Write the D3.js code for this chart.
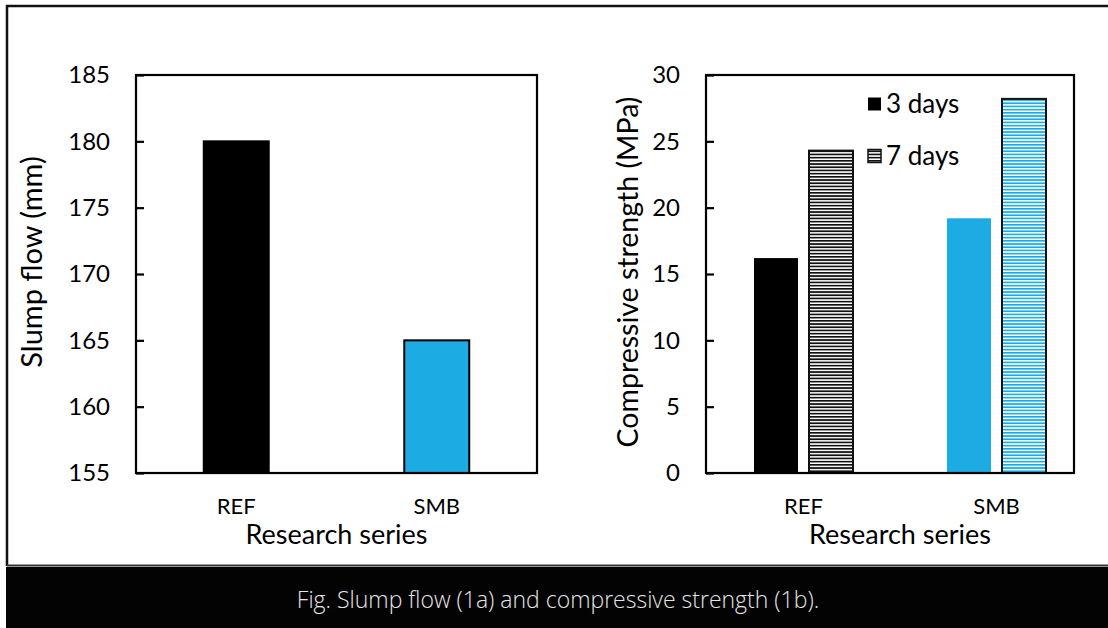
<!DOCTYPE html>
<html><head><meta charset="utf-8">
<script src="https://cdn.jsdelivr.net/npm/d3@7/dist/d3.min.js"></script>
<style>body{margin:0;background:#fff}svg{display:block}</style>
</head><body>
<script>
const categories = ["REF", "SMB"];
const slumpFlow = [180, 165];
const slumpTicks = [155, 160, 165, 170, 175, 180, 185];
const ages = ["3 days", "7 days"];
const strength3 = [16.2, 19.2];
const strength7 = [24.3, 28.2];
const strengthTicks = [0, 5, 10, 15, 20, 25, 30];
const caption = "Fig. Slump flow (1a) and compressive strength (1b).";

const W = 1108, H = 628;
const BLACK = "#000", BLUE = "#1CACE3";
const font = "Lato, 'Open Sans', sans-serif";

const svg = d3.select("body").append("svg").attr("width", W).attr("height", H);
const defs = svg.append("defs");
function hatch(id, color) {
  const p = defs.append("pattern").attr("id", id).attr("patternUnits", "userSpaceOnUse")
    .attr("width", 8).attr("height", 3.2);
  p.append("rect").attr("width", 8).attr("height", 3.2).attr("fill", "#fff");
  p.append("rect").attr("y", 0).attr("width", 8).attr("height", 1.7).attr("fill", color);
}
hatch("hBlack", "#111");
hatch("hBlue", BLUE);

// outer frame
svg.append("rect").attr("x", 0).attr("y", 0).attr("width", W).attr("height", H).attr("fill", "#fff");
svg.append("path").attr("d", `M7,566 V6 H${W}`).attr("fill", "none").attr("stroke", "#111").attr("stroke-width", 2.5);
svg.append("line").attr("x1", 7).attr("x2", W).attr("y1", 565.5).attr("y2", 565.5).attr("stroke", "#333").attr("stroke-width", 2);
svg.append("rect").attr("x", 6).attr("y", 567).attr("width", W - 6).attr("height", H - 567).attr("fill", "#030303");
svg.append("text").attr("x", 558).attr("y", 608).attr("text-anchor", "middle")
  .attr("font-family", "'Open Sans', 'Noto Sans', sans-serif").attr("font-weight", 300)
  .attr("font-size", 23).attr("fill", "#e6e6e6").text(caption);

function frame(g, x0, x1, y0, y1) {
  g.append("rect").attr("x", x0).attr("y", y0).attr("width", x1 - x0).attr("height", y1 - y0)
    .attr("fill", "none").attr("stroke", "#000").attr("stroke-width", 2.2);
}
function yAxis(g, y, ticks, x0) {
  const ax = d3.axisLeft(y).tickValues(ticks).tickSize(-8).tickPadding(26).tickFormat(d3.format("d"));
  const a = g.append("g").attr("transform", `translate(${x0},0)`).call(ax);
  a.select(".domain").remove();
  a.selectAll("line").attr("stroke", "#000").attr("stroke-width", 2.2);
  a.selectAll("text").attr("font-family", font).attr("font-size", 24).attr("fill", "#000");
}
function xLabels(g, x, yPos) {
  const ax = d3.axisBottom(x).tickSize(0).tickPadding(0);
  const a = g.append("g").attr("transform", `translate(0,${yPos})`).call(ax);
  a.select(".domain").remove();
  a.selectAll("text").attr("font-family", font).attr("font-size", 22).attr("fill", "#000").attr("dy", "0");
}

// ---- left chart
const L = {x0: 136, x1: 537, y0: 75, y1: 473};
const gL = svg.append("g");
const xL = d3.scaleBand().domain(categories).range([L.x0, L.x1]).paddingInner(0.676).paddingOuter(0.338);
const yL = d3.scaleLinear().domain([155, 185]).range([L.y1, L.y0]);
gL.selectAll("rect.bar").data(categories).join("rect").attr("class", "bar")
  .attr("x", d => xL(d)).attr("width", xL.bandwidth())
  .attr("y", (d, i) => yL(slumpFlow[i])).attr("height", (d, i) => yL(155) - yL(slumpFlow[i]))
  .attr("fill", (d, i) => i === 0 ? BLACK : BLUE)
  .attr("stroke", "#000").attr("stroke-width", 2);
frame(gL, L.x0, L.x1, L.y0, L.y1);
yAxis(gL, yL, slumpTicks, L.x0);
xLabels(gL, xL, 514);
gL.append("text").attr("x", (L.x0 + L.x1) / 2).attr("y", 544).attr("text-anchor", "middle")
  .attr("font-family", font).attr("font-size", 27).text("Research series");
gL.append("text").attr("transform", `translate(42,262) rotate(-90)`)
  .attr("text-anchor", "middle").attr("font-family", font).attr("font-size", 29).text("Slump flow (mm)");

// ---- right chart
const R = {x0: 706, x1: 1074, y0: 75, y1: 473};
const gR = svg.append("g");
const xR = d3.scaleBand().domain(categories).range([707, 1093]).paddingInner(0.487).paddingOuter(0.2435);
const xR1 = d3.scaleBand().domain(ages).range([0, xR.bandwidth()]).paddingInner(0.2).paddingOuter(0);
const yR = d3.scaleLinear().domain([0, 30]).range([R.y1, R.y0]);
const series = [strength3, strength7];
const fills = [[BLACK, BLUE], ["url(#hBlack)", "url(#hBlue)"]];
ages.forEach((age, s) => {
  gR.selectAll(`rect.s${s}`).data(categories).join("rect").attr("class", `s${s}`)
    .attr("x", d => xR(d) + xR1(age)).attr("width", xR1.bandwidth())
    .attr("y", (d, i) => yR(series[s][i])).attr("height", (d, i) => yR(0) - yR(series[s][i]))
    .attr("fill", (d, i) => fills[s][i])
    .attr("stroke", s === 0 ? "none" : "#111").attr("stroke-width", 2);
});
frame(gR, R.x0, R.x1, R.y0, R.y1);
yAxis(gR, yR, strengthTicks, R.x0);
xLabels(gR, xR, 514);
gR.append("text").attr("x", 900).attr("y", 544).attr("text-anchor", "middle")
  .attr("font-family", font).attr("font-size", 27).text("Research series");
gR.append("text").attr("transform", `translate(638,272) rotate(-90)`)
  .attr("text-anchor", "middle").attr("font-family", font).attr("font-size", 28.5).text("Compressive strength (MPa)");

// legend
const leg = gR.append("g");
ages.forEach((age, s) => {
  const yy = 104 + s * 52;
  leg.append("rect").attr("x", 868).attr("y", yy - 6.5).attr("width", 13).attr("height", 13)
    .attr("fill", s === 0 ? BLACK : "url(#hBlack)").attr("stroke", "#111").attr("stroke-width", s === 0 ? 0 : 1.5);
  leg.append("text").attr("x", 886).attr("y", yy + 9).attr("font-family", font).attr("font-size", 26).text(age);
});
</script>
</body></html>
